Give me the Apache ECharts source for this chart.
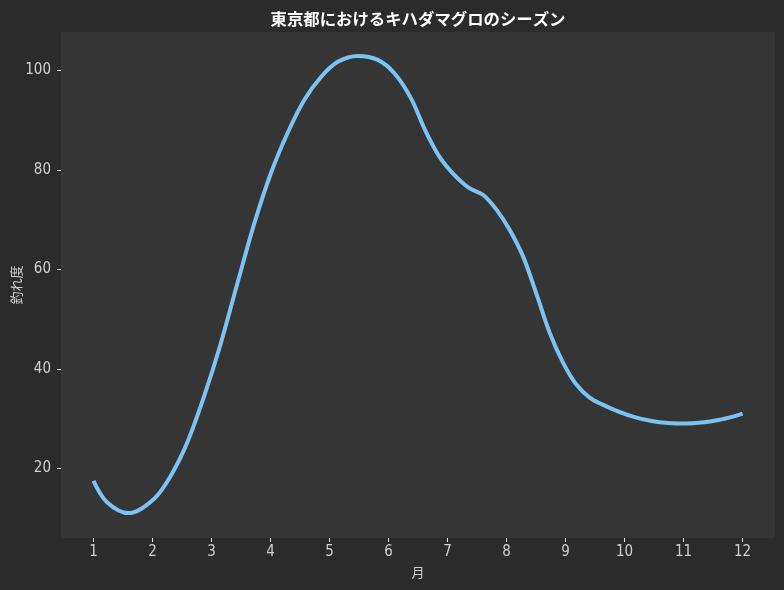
<!DOCTYPE html>
<html>
<head>
<meta charset="utf-8">
<script src="https://cdn.jsdelivr.net/npm/echarts@6/dist/echarts.min.js"></script>
<style>
html,body{margin:0;padding:0;background:#2b2b2b;}
#chart{width:784px;height:590px;}
</style>
</head>
<body>
<div id="chart"></div>
<script>
// Points (month position, catch level)
const months = [1.00, 1.23, 1.60, 2.02, 2.31, 2.59, 2.87, 3.15, 3.44, 3.72, 4.01, 4.29, 4.57, 4.86, 5.14, 5.48, 5.82, 6.10, 6.38, 6.62, 6.86, 7.09, 7.37, 7.60, 7.83, 8.05, 8.28, 8.50, 8.73, 8.96, 9.18, 9.41, 9.61, 9.90, 10.17, 10.46, 10.74, 11.03, 11.31, 11.59, 11.87, 12.00];
const catchLevel = [17.5, 13.2, 11.0, 13.8, 18.5, 25.2, 34.3, 44.8, 57.2, 69.0, 79.4, 87.4, 94.0, 98.7, 101.7, 102.9, 102.1, 99.4, 94.4, 88.0, 82.7, 79.3, 76.3, 75.0, 72.0, 68.0, 62.6, 55.3, 47.3, 41.2, 36.9, 34.2, 32.9, 31.4, 30.3, 29.5, 29.1, 29.0, 29.2, 29.7, 30.5, 31.0];
const xTicks = [1, 2, 3, 4, 5, 6, 7, 8, 9, 10, 11, 12];
const yTicks = [20, 40, 60, 80, 100];
const titleText = '東京都におけるキハダマグロのシーズン';
const xName = '月';
const yName = '釣れ度';

const cjkFont = '"Noto Sans CJK JP", "Noto Sans", sans-serif';
const numFont = '"Liberation Sans Narrow", "DejaVu Sans Condensed", "Noto Sans", sans-serif';
const chart = echarts.init(document.getElementById('chart'), null, {renderer: 'canvas'});
const seriesData = months.map((m, i) => [m, catchLevel[i]]);

chart.setOption({
  backgroundColor: '#2b2b2b',
  animation: false,
  title: {
    text: titleText,
    left: 413, textAlign: 'center', top: 6,
    textStyle: {color: '#ffffff', fontSize: 16.4, fontWeight: 'bold', fontFamily: cjkFont}
  },
  grid: {left: 61, right: 9, top: 32, bottom: 52, show: true, backgroundColor: '#353535', borderWidth: 0,
         containLabel: false, outerBoundsMode: 'none'},
  xAxis: {
    type: 'value', min: 0.45, max: 12.55,
    name: xName, nameLocation: 'middle', nameGap: 28, nameMoveOverlap: false,
    nameTextStyle: {color: '#d0d0d0', fontSize: 13, fontFamily: cjkFont},
    axisLine: {show: false},
    axisTick: {show: true, length: 4, lineStyle: {color: '#e8e8e8'}, customValues: xTicks},
    axisLabel: {color: '#d0d0d0', fontSize: 15, fontFamily: numFont, margin: 7, customValues: xTicks},
    splitLine: {show: false}
  },
  yAxis: {
    type: 'value', min: 6.0, max: 107.7,
    name: yName, nameLocation: 'middle', nameGap: 38, nameRotate: 90, nameMoveOverlap: false,
    nameTextStyle: {color: '#d0d0d0', fontSize: 13, fontFamily: cjkFont},
    axisLine: {show: false},
    axisTick: {show: true, length: 4, lineStyle: {color: '#e8e8e8'}, customValues: yTicks},
    axisLabel: {color: '#d0d0d0', fontSize: 15, fontFamily: numFont, margin: 10, customValues: yTicks},
    splitLine: {show: false}
  },
  series: [{
    type: 'line',
    data: seriesData,
    smooth: 0.33,
    showSymbol: false,
    lineStyle: {color: '#7cc3f5', width: 4, cap: 'butt'}
  }]
});
</script>
</body>
</html>
